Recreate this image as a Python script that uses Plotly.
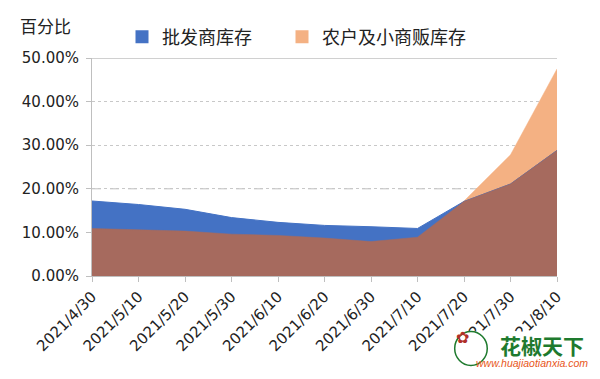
import plotly.graph_objects as go

dates = ["2021/4/30", "2021/5/10", "2021/5/20", "2021/5/30", "2021/6/10", "2021/6/20",
         "2021/6/30", "2021/7/10", "2021/7/20", "2021/7/30", "2021/8/10"]
wholesaler = [17.2, 16.4, 15.3, 13.4, 12.3, 11.6, 11.3, 10.9, 17.1, 21.1, 28.8]
farmer = [10.9, 10.6, 10.3, 9.6, 9.3, 8.7, 7.9, 8.9, 17.2, 27.8, 47.5]
name_w = "批发商库存"
name_f = "农户及小商贩库存"
ytick_vals = [0, 0.1, 0.2, 0.3, 0.4, 0.5]

FONT = "DejaVu Sans, Noto Sans CJK SC, sans-serif"
BLUE = "#4472C4"
LIGHT_ORANGE = "#F4B183"
BROWN = "#A66A5E"

w = [v / 100 for v in wholesaler]
f = [v / 100 for v in farmer]
overlap = [min(a, b) for a, b in zip(w, f)]

fig = go.Figure()
fig.add_trace(go.Scatter(x=dates, y=f, mode="lines", fill="tozeroy", fillcolor=LIGHT_ORANGE,
                         line=dict(color=LIGHT_ORANGE, width=0.5), showlegend=False, name=name_f))
fig.add_trace(go.Scatter(x=dates, y=w, mode="lines", fill="tozeroy", fillcolor=BLUE,
                         line=dict(color=BLUE, width=1), showlegend=False, name=name_w))
fig.add_trace(go.Scatter(x=dates, y=overlap, mode="lines", fill="tozeroy", fillcolor=BROWN,
                         line=dict(color=BROWN, width=0.5), showlegend=False, hoverinfo="skip"))
# legend entries (two separate legends for exact placement)
fig.add_trace(go.Scatter(x=[None], y=[None], mode="markers", name=name_w, legend="legend",
                         marker=dict(symbol="square", size=13, color=BLUE)))
fig.add_trace(go.Scatter(x=[None], y=[None], mode="markers", name=name_f, legend="legend2",
                         marker=dict(symbol="square", size=13, color=LIGHT_ORANGE)))

# gridline styles
fig.add_shape(type="line", xref="paper", x0=0, x1=1, yref="y", y0=0.2, y1=0.2,
              line=dict(color="#BFBFBF", width=1, dash="dash"), layer="below")
fig.add_shape(type="line", xref="paper", x0=0, x1=1, yref="y", y0=0.5, y1=0.5,
              line=dict(color="#D0D0D0", width=2), layer="below")

fig.add_annotation(text="百分比", xref="paper", yref="paper", x=-0.159, y=1.085,
                   xanchor="left", yanchor="bottom", showarrow=False,
                   font=dict(family=FONT, size=17, color="#222222"))

# watermark (white backing covers part of the last tick labels, as in the source)
fig.add_shape(type="rect", xref="paper", yref="paper", x0=0.985, x1=1.09, y0=-0.47, y1=-0.235,
              line=dict(width=0), fillcolor="white", layer="above")
fig.add_shape(type="rect", xref="paper", yref="paper", x0=0.795, x1=0.985, y0=-0.47, y1=-0.255,
              line=dict(width=0), fillcolor="white", layer="above")
fig.add_shape(type="circle", xref="paper", yref="paper", x0=0.78, x1=0.85, y0=-0.41, y1=-0.255,
              line=dict(color="#1E7A2E", width=1.5), fillcolor="white", layer="above")
fig.add_annotation(text="✿", xref="paper", yref="paper", x=0.815, y=-0.333,
                   showarrow=False, font=dict(size=16, color="#B0302A"))
fig.add_annotation(text="<b>花椒天下</b>", xref="paper", yref="paper", x=1.062, y=-0.315,
                   xanchor="right", yanchor="middle", showarrow=False,
                   font=dict(family="Noto Sans CJK SC", size=21, color="#1E7A2E"))
fig.add_annotation(text="<i>www.huajiaotianxia.com</i>", xref="paper", yref="paper", x=1.072, y=-0.40,
                   xanchor="right", yanchor="middle", showarrow=False,
                   font=dict(family="Liberation Sans", size=10.5, color="#E8561A"))

legend_common = dict(orientation="h", xref="container", yref="container",
                     y=1 - 37 / 379, xanchor="left", yanchor="middle",
                     font=dict(family=FONT, size=18, color="#222222"),
                     itemwidth=30, bgcolor="rgba(0,0,0,0)")

fig.update_layout(
    width=600, height=379,
    margin=dict(l=92, r=43, t=58, b=103, autoexpand=False),
    paper_bgcolor="white", plot_bgcolor="white",
    font=dict(family=FONT, size=15, color="#222222"),
    legend=dict(x=122 / 600, **legend_common),
    legend2=dict(x=282 / 600, **legend_common),
    xaxis=dict(type="category", range=[0, len(dates) - 1], showgrid=False, automargin=False,
               showline=True, linecolor="#BFBFBF", linewidth=1,
               ticks="outside", ticklen=5, tickcolor="#BFBFBF", tickangle=-45,
               tickfont=dict(family=FONT, size=15, color="#222222")),
    yaxis=dict(range=[0, 0.5], tickvals=ytick_vals, tickformat=".2%", automargin=False,
               showgrid=True, gridcolor="#C8C8C8", griddash="dot", gridwidth=1,
               showline=True, linecolor="#BFBFBF", linewidth=1,
               ticks="outside", ticklen=5, tickcolor="#BFBFBF", ticklabelstandoff=4,
               zeroline=False,
               tickfont=dict(family=FONT, size=15, color="#222222")),
    showlegend=True,
)

fig.write_html("out.html", config={"displayModeBar": False},
               post_script="document.body.style.margin='0';document.body.style.padding='0';")
